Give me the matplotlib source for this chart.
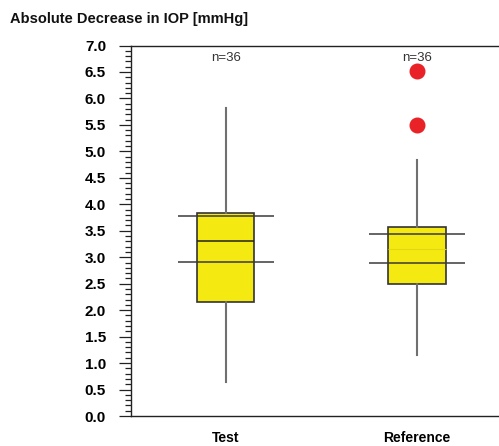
import matplotlib
matplotlib.use("Agg")
import matplotlib.pyplot as plt
from matplotlib.ticker import MultipleLocator, FormatStrFormatter

# ---- data ----
categories = ["Test", "Reference"]
whisker_lo = [0.65, 1.16]
q1 = [2.15, 2.50]
median = [3.30, 3.16]
q3 = [3.83, 3.58]
whisker_hi = [5.82, 4.84]
line_upper = [3.77, 3.44]
line_lower = [2.91, 2.89]
outliers = [[], [6.51, 5.50]]
n_labels = ["n=36", "n=36"]
y_ticks_major = [0.0, 0.5, 1.0, 1.5, 2.0, 2.5, 3.0, 3.5, 4.0, 4.5, 5.0, 5.5, 6.0, 6.5, 7.0]

W, H = 499, 446
fig = plt.figure(figsize=(W / 100, H / 100), dpi=100)
ax = fig.add_axes([130.5 / W, 1 - 416 / H, (W - 130.5) / W + 0.01, (416 - 45.5) / H])

positions = [1, 2]
stats = []
for i, c in enumerate(categories):
    stats.append(dict(label=c, whislo=whisker_lo[i], q1=q1[i], med=median[i],
                      q3=q3[i], whishi=whisker_hi[i], fliers=outliers[i]))

yellow = "#F5E912"
res = ax.bxp(stats, positions=positions, widths=0.30, showcaps=False, patch_artist=True,
             boxprops=dict(facecolor=yellow, edgecolor="#333333", linewidth=1.2),
             whiskerprops=dict(color="#707070", linewidth=1.5),
             medianprops=dict(color="#222222", linewidth=1.1),
             flierprops=dict(marker="o", markerfacecolor="#E82227", markeredgecolor="#E82227",
                             markersize=10.5),
             zorder=2)
# the Reference median is drawn very faintly in the original
res["medians"][1].set_color("#E3D70F")
res["medians"][1].set_linewidth(0.8)

ax.hlines(line_upper, [p - 0.25 for p in positions], [p + 0.25 for p in positions],
          colors="#3a3a3a", linewidth=1.1, zorder=3)
ax.hlines(line_lower, [p - 0.25 for p in positions], [p + 0.25 for p in positions],
          colors="#3a3a3a", linewidth=1.1, zorder=3)

for p, t in zip(positions, n_labels):
    ax.text(p, 6.77, t, ha="center", va="center", fontsize=9.5,
            family="Liberation Sans", color="#333333")

ax.set_xlim(0.501, 2.456)
ax.set_ylim(0, 7.0)
ax.set_yticks(y_ticks_major)
ax.yaxis.set_major_formatter(FormatStrFormatter("%.1f"))
ax.yaxis.set_minor_locator(MultipleLocator(0.1))
ax.tick_params(axis="y", which="major", direction="out", length=8.6, width=0.9,
               color="#222222", pad=9, labelsize=11)
ax.tick_params(axis="y", which="minor", direction="out", length=4.3, width=0.9,
               color="#222222")
for lab in ax.get_yticklabels():
    lab.set_fontweight("bold")
    lab.set_family("Liberation Sans")

ax.set_xticks(positions)
ax.set_xticklabels(categories, fontweight="bold", family="Liberation Sans", fontsize=10)
ax.tick_params(axis="x", length=0, pad=11)

for s in ["left", "top", "bottom"]:
    ax.spines[s].set_linewidth(1.0)
    ax.spines[s].set_color("#222222")
ax.spines["right"].set_visible(False)

fig.text(10 / W, 1 - 19 / H, "Absolute Decrease in IOP [mmHg]", ha="left", va="center",
         fontsize=10.5, fontweight="bold", family="Liberation Sans", color="#111111")

fig.savefig("out.png", dpi=100)
